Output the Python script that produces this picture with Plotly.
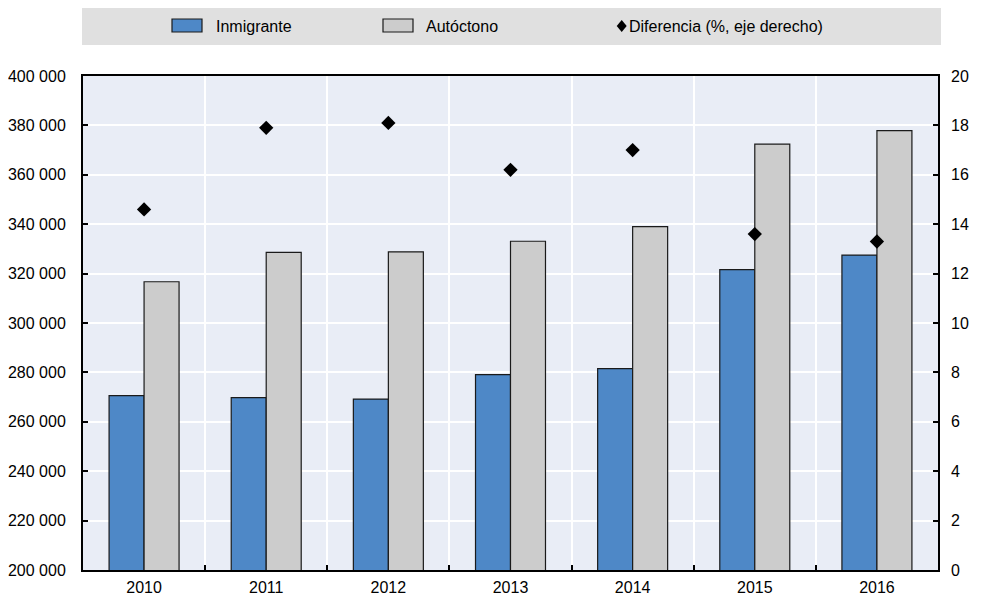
import plotly.graph_objects as go

years = ["2010", "2011", "2012", "2013", "2014", "2015", "2016"]
inmigrante = [270600, 269800, 269200, 279100, 281500, 321600, 327500]
autoctono = [316700, 328600, 328800, 333100, 339000, 372400, 377900]
diferencia = [14.6, 17.9, 18.1, 16.2, 17.0, 13.6, 13.3]

left_ticks = [200000, 220000, 240000, 260000, 280000, 300000, 320000, 340000, 360000, 380000, 400000]
left_labels = ["200 000", "220 000", "240 000", "260 000", "280 000", "300 000",
               "320 000", "340 000", "360 000", "380 000", "400 000"]
right_ticks = [0, 2, 4, 6, 8, 10, 12, 14, 16, 18, 20]

legend_names = ["Inmigrante", "Autóctono", "Diferencia (%, eje derecho)"]

BLUE = "#4E88C7"
GRAY = "#CCCCCC"
BG = "#E9EDF6"
BAND = "#E0E0E0"
FONT = "Liberation Sans, Arial, sans-serif"
FS = 16

# page geometry (the browser adds an 8px body margin around the figure)
OFF = 8
PAGE_W, PAGE_H = 982, 597
W, H = PAGE_W - OFF, PAGE_H - OFF
L, R, T, B = 83, 938, 76, 570  # plot area in page pixels


def px(x):
    return (x - L) / (R - L)


def py(y):
    return (B - y) / (B - T)


fig = go.Figure()
fig.add_trace(go.Bar(x=years, y=inmigrante, name=legend_names[0],
                     marker=dict(color=BLUE, line=dict(color="#1a1a1a", width=1.2))))
fig.add_trace(go.Bar(x=years, y=autoctono, name=legend_names[1],
                     marker=dict(color=GRAY, line=dict(color="#1a1a1a", width=1.2))))
fig.add_trace(go.Scatter(x=years, y=diferencia, name=legend_names[2], yaxis="y2",
                         mode="markers",
                         marker=dict(symbol="diamond", size=11, color="black")))

shapes = [
    dict(type="rect", xref="paper", yref="paper", x0=px(82), x1=px(941), y0=py(45), y1=py(6),
         fillcolor=BAND, line=dict(width=0), layer="below"),
    dict(type="rect", xref="paper", yref="paper", x0=px(172), x1=px(202), y0=py(32), y1=py(19),
         fillcolor=BLUE, line=dict(color="#1a1a1a", width=1.2)),
    dict(type="rect", xref="paper", yref="paper", x0=px(383), x1=px(413), y0=py(32), y1=py(19),
         fillcolor=GRAY, line=dict(color="#1a1a1a", width=1.2)),
    dict(type="path", xref="paper", yref="paper",
         path="M {a},{b} L {c},{d} L {a},{e} L {f},{d} Z".format(
             a=px(621.7), b=py(20), c=px(626.7), d=py(26), e=py(32), f=px(616.7)),
         fillcolor="black", line=dict(width=0)),
]

annotations = [
    dict(xref="paper", yref="paper", x=px(x0), y=py(26), text=t, showarrow=False,
         xanchor="left", yanchor="middle", font=dict(family=FONT, size=FS, color="black"))
    for x0, t in zip([214, 424, 627], legend_names)
]

fig.update_layout(
    width=W, height=H,
    margin=dict(l=L - OFF, r=W - (R - OFF), t=T - OFF, b=H - (B - OFF), autoexpand=False),
    paper_bgcolor="white", plot_bgcolor=BG,
    barmode="group", bargap=0.427, bargroupgap=0,
    showlegend=False,
    font=dict(family=FONT, size=FS, color="black"),
    shapes=shapes, annotations=annotations,
    xaxis=dict(type="category", tickson="boundaries", ticks="inside", ticklen=5,
               tickcolor="black", tickwidth=1.5, automargin=False,
               showgrid=True, gridcolor="white", gridwidth=2,
               showline=True, linecolor="black", linewidth=2, mirror=True,
               ticklabelstandoff=2),
    yaxis=dict(range=[200000, 400000], tickvals=left_ticks, ticktext=left_labels,
               ticks="inside", ticklen=5, tickcolor="black", tickwidth=1.5, automargin=False,
               showgrid=True, gridcolor="white", gridwidth=2,
               showline=True, linecolor="black", linewidth=2, mirror=True,
               zeroline=False, ticklabelstandoff=12),
    yaxis2=dict(range=[0, 20], tickvals=right_ticks, overlaying="y", side="right",
                ticks="inside", ticklen=5, tickcolor="black", tickwidth=1.5, automargin=False,
                showgrid=False, zeroline=False, showline=False,
                ticklabelstandoff=12),
)

fig.write_html("out.html")
